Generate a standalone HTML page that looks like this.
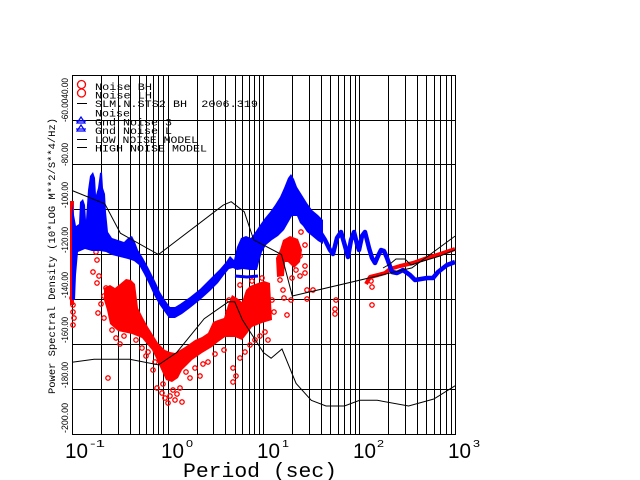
<!DOCTYPE html>
<html><head><meta charset="utf-8"><style>
html,body{margin:0;padding:0;background:#fff;}
svg{display:block;}
</style></head><body>
<svg width="640" height="480" xmlns="http://www.w3.org/2000/svg">
<rect width="640" height="480" fill="#fff"/>
<!-- grid -->
<path fill="none" stroke="#000" stroke-width="1" shape-rendering="crispEdges" d="
M72.5 75V434 M101.5 75V434 M118.5 75V434 M130.5 75V434 M139.5 75V434 M146.5 75V434 M153.5 75V434 M158.5 75V434 M163.5 75V434
M168.5 75V434 M197.5 75V434 M213.5 75V434 M225.5 75V434 M235.5 75V434 M242.5 75V434 M249.5 75V434 M254.5 75V434 M259.5 75V434
M263.5 75V434 M292.5 75V434 M309.5 75V434 M321.5 75V434 M330.5 75V434 M338.5 75V434 M344.5 75V434 M350.5 75V434 M355.5 75V434
M359.5 75V434 M388.5 75V434 M405.5 75V434 M417.5 75V434 M426.5 75V434 M434.5 75V434 M440.5 75V434 M446.5 75V434 M451.5 75V434
M455.5 75V434
M72 75.5H456 M72 120.5H456 M72 164.5H456 M72 209.5H456 M72 254.5H456 M72 299.5H456 M72 344.5H456 M72 389.5H456 M72 434.5H456"/>

<!-- red data -->
<g fill="#f00" stroke="none">
<rect x="70" y="201" width="4" height="104"/>
<polygon points="104,288 110,285 115,288 120,284 126,279 131,280 135,284 138,308 143,318 148,327 153,335 158,343 165,350 170,352 175,353 180,350 185,347 195,340 202,337 208,333 213,322 218,320 224,318 228,305 232,295 237,298 242,302 246,290 250,286 258,283 264,281 270,283 272,320 262,323 252,327 246,335 242,340 235,337 225,337 218,342 212,347 202,353 192,360 186,366 182,370 178,378 172,382 166,380 160,367 156,358 152,350 147,344 142,338 132,334 118,331 110,324 107,310 104,300"/>
<polygon points="283,240 290,236 298,239 302,250 300,262 294,268 288,262 285,262 284,276 277,277 276,258 280,250"/>
</g>
<polyline fill="none" stroke="#f00" stroke-width="4" stroke-linejoin="round" points="366,284 370,277 378,275 385,273 390,269 400,266 413,263 427,258 440,254 455,249"/>
<g fill="none" stroke="#f00" stroke-width="1.3">
<circle cx="72" cy="298" r="2.2"/><circle cx="73" cy="305" r="2.2"/><circle cx="73" cy="312" r="2.2"/><circle cx="74" cy="318" r="2.2"/><circle cx="73" cy="325" r="2.2"/>
<circle cx="96" cy="252" r="2.2"/><circle cx="97" cy="260" r="2.2"/><circle cx="93" cy="272" r="2.2"/><circle cx="99" cy="276" r="2.2"/><circle cx="97" cy="283" r="2.2"/>
<circle cx="98" cy="313" r="2.2"/><circle cx="104" cy="318" r="2.2"/><circle cx="106" cy="288" r="2.2"/><circle cx="104" cy="296" r="2.2"/><circle cx="101" cy="304" r="2.2"/>
<circle cx="108" cy="378" r="2.2"/><circle cx="112" cy="330" r="2.2"/><circle cx="116" cy="338" r="2.2"/><circle cx="120" cy="344" r="2.2"/><circle cx="124" cy="336" r="2.2"/>
<circle cx="136" cy="340" r="2.2"/><circle cx="142" cy="348" r="2.2"/><circle cx="148" cy="352" r="2.2"/><circle cx="155" cy="362" r="2.2"/><circle cx="153" cy="370" r="2.2"/>
<circle cx="157" cy="388" r="2.2"/><circle cx="162" cy="393" r="2.2"/><circle cx="165" cy="398" r="2.2"/><circle cx="168" cy="403" r="2.2"/><circle cx="170" cy="396" r="2.2"/>
<circle cx="175" cy="400" r="2.2"/><circle cx="177" cy="394" r="2.2"/><circle cx="182" cy="402" r="2.2"/><circle cx="163" cy="384" r="2.2"/><circle cx="173" cy="390" r="2.2"/>
<circle cx="180" cy="388" r="2.2"/><circle cx="186" cy="372" r="2.2"/><circle cx="190" cy="378" r="2.2"/><circle cx="195" cy="368" r="2.2"/><circle cx="200" cy="376" r="2.2"/>
<circle cx="203" cy="364" r="2.2"/><circle cx="208" cy="362" r="2.2"/><circle cx="215" cy="354" r="2.2"/><circle cx="224" cy="350" r="2.2"/><circle cx="233" cy="368" r="2.2"/>
<circle cx="236" cy="376" r="2.2"/><circle cx="240" cy="358" r="2.2"/><circle cx="245" cy="352" r="2.2"/><circle cx="250" cy="345" r="2.2"/><circle cx="255" cy="340" r="2.2"/>
<circle cx="260" cy="336" r="2.2"/><circle cx="265" cy="332" r="2.2"/><circle cx="268" cy="340" r="2.2"/><circle cx="233" cy="382" r="2.2"/><circle cx="229" cy="300" r="2.2"/>
<circle cx="240" cy="285" r="2.2"/><circle cx="252" cy="281" r="2.2"/><circle cx="262" cy="278" r="2.2"/><circle cx="272" cy="300" r="2.2"/><circle cx="274" cy="312" r="2.2"/>
<circle cx="283" cy="290" r="2.2"/><circle cx="284" cy="298" r="2.2"/><circle cx="291" cy="300" r="2.2"/><circle cx="292" cy="278" r="2.2"/><circle cx="296" cy="270" r="2.2"/>
<circle cx="300" cy="276" r="2.2"/><circle cx="305" cy="273" r="2.2"/><circle cx="307" cy="290" r="2.2"/><circle cx="307" cy="299" r="2.2"/><circle cx="305" cy="266" r="2.2"/>
<circle cx="313" cy="290" r="2.2"/><circle cx="336" cy="300" r="2.2"/><circle cx="335" cy="314" r="2.2"/><circle cx="335" cy="309" r="2.2"/><circle cx="372" cy="305" r="2.2"/>
<circle cx="372" cy="287" r="2.2"/><circle cx="371" cy="281" r="2.2"/><circle cx="301" cy="232" r="2.2"/><circle cx="305" cy="245" r="2.2"/><circle cx="287" cy="245" r="2.2"/>
<circle cx="280" cy="280" r="2.2"/><circle cx="287" cy="315" r="2.2"/><circle cx="290" cy="260" r="2.2"/><circle cx="300" cy="256" r="2.2"/>
<circle cx="228" cy="312" r="2.2"/><circle cx="221" cy="330" r="2.2"/><circle cx="188" cy="356" r="2.2"/><circle cx="146" cy="356" r="2.2"/><circle cx="129" cy="330" r="2.2"/>
</g>

<!-- blue data -->
<polygon fill="#00f" points="72,203 74,215 76,226 79,224 80,202 83,199 85,205 86,220 88,190 90,176 93,172 95,178 96,195 98,188 100,173 102,172 103,188 105,194 106,212 108,232 112,238 118,240 124,242 128,238 132,236 135,242 138,250 143,258 148,267 152,275 156,283 160,292 165,300 170,307 175,307 180,304 190,297 200,289 210,279 220,269 226,262 230,256 234,260 237,247 241,238 246,236 251,238 256,231 260,225 265,218 270,212 275,205 280,197 284,188 288,178 291,174 294,179 297,187 302,195 307,203 312,210 318,215 323,220 323,244 318,241 312,236 307,232 303,226 300,223 297,216 292,216 288,223 284,230 278,236 272,240 266,245 262,252 259,262 257,270 250,270 243,269 237,270 233,268 229,269 224,275 218,283 210,291 200,300 190,308 182,314 175,318 169,318 164,311 159,304 154,295 149,284 144,274 139,265 134,261 128,259 120,257 112,255 106,252 100,251 92,251 85,249 78,252 76,275 75,300 72,300"/>
<polyline fill="none" stroke="#00f" stroke-width="3" points="235,276 247,277 258,276"/>
<polyline fill="none" stroke="#00f" stroke-width="4.5" stroke-linejoin="round" points="320,232 325,240 330,250 333,254 337,238 341,232 345,246 348,257 351,240 354,232 357,244 359,250 362,236 365,232 369,248 372,258 375,263 378,256 381,250 384,251 387,258 392,272 397,273 403,270 410,275 415,280 427,278 433,278 438,272 447,265 455,262"/>

<!-- model lines -->
<g fill="none" stroke="#000" stroke-width="1">
<polyline points="72,190.5 104.8,203.8 120.4,233.2 158.5,254.5 223.3,205.1 231.2,201.7 244.3,211.8 253.7,239.9 281.5,254.5 292.3,296 411.9,267.9 455,236.1"/>
<polyline points="72,362.2 94.1,359.3 129.6,359.3 158.5,364.9 176.7,352.5 204.2,318.7 228.4,301.8 234.7,301.8 242.3,319.6 263.5,352.7 271.1,358.2 282,349 296.1,383.5 311.3,400.3 326,406 344.4,406 359.7,400.3 377.2,400.3 408.6,406 433.8,399 455,385.8"/>
<polyline points="383,268 390,264 396,259 405,259 411,265 420,262 440,256 455,250"/>
</g>

<!-- legend -->
<g fill="none" stroke="#f00" stroke-width="1.3">
<ellipse cx="81.5" cy="84.5" rx="4" ry="4"/>
<ellipse cx="81.5" cy="93" rx="4" ry="4"/>
</g>
<g stroke="#000" stroke-width="1">
<line x1="77" y1="103.5" x2="87" y2="103.5"/>
<line x1="77" y1="139.5" x2="87" y2="139.5"/>
<line x1="77" y1="147.5" x2="87" y2="147.5"/>
</g>
<g fill="none" stroke="#00f" stroke-width="1.2">
<polygon points="77,123 81,117 85,123"/><line x1="76" y1="121" x2="86" y2="121"/>
<polygon points="77,131 81,125 85,131"/><line x1="76" y1="129" x2="86" y2="129"/>
</g>
<g font-family="Liberation Mono, monospace" font-size="10.5" fill="#000">
<text x="95" y="90" textLength="57" lengthAdjust="spacingAndGlyphs">Noise BH</text>
<text x="95" y="98.5" textLength="57" lengthAdjust="spacingAndGlyphs">Noise LH</text>
<text x="95" y="107" textLength="163" lengthAdjust="spacingAndGlyphs" xml:space="preserve">SLM.N.STS2 BH  2006.319</text>
<text x="95" y="116.5" textLength="35" lengthAdjust="spacingAndGlyphs">Noise</text>
<text x="95" y="125.5" textLength="77" lengthAdjust="spacingAndGlyphs">Gnd Noise 3</text>
<text x="95" y="134" textLength="77" lengthAdjust="spacingAndGlyphs">Gnd Noise L</text>
<text x="95" y="143" textLength="103" lengthAdjust="spacingAndGlyphs">LOW NOISE MODEL</text>
<text x="95" y="151.7" textLength="112" lengthAdjust="spacingAndGlyphs">HIGH NOISE MODEL</text>
</g>

<!-- y tick labels -->
<g font-family="Liberation Sans, sans-serif" font-size="9" fill="#000">
<text transform="translate(68,433) rotate(-90)" textLength="30" lengthAdjust="spacingAndGlyphs">-200.00</text>
<text transform="translate(68,388) rotate(-90)" textLength="26" lengthAdjust="spacingAndGlyphs">-180.00</text>
<text transform="translate(68,343) rotate(-90)" textLength="26" lengthAdjust="spacingAndGlyphs">-160.00</text>
<text transform="translate(68,298) rotate(-90)" textLength="26" lengthAdjust="spacingAndGlyphs">-140.00</text>
<text transform="translate(68,253) rotate(-90)" textLength="26" lengthAdjust="spacingAndGlyphs">-120.00</text>
<text transform="translate(68,208) rotate(-90)" textLength="26" lengthAdjust="spacingAndGlyphs">-100.00</text>
<text transform="translate(68,166) rotate(-90)" textLength="23" lengthAdjust="spacingAndGlyphs">-80.00</text>
<text transform="translate(68,122) rotate(-90)" textLength="44" lengthAdjust="spacingAndGlyphs">-60.0040.00</text>
</g>
<text transform="translate(55,394) rotate(-90)" font-family="Liberation Mono, monospace" font-size="10.4" fill="#000" textLength="276" lengthAdjust="spacingAndGlyphs">Power Spectral Density (10*LOG M**2/S**4/Hz)</text>

<!-- x tick labels -->
<g font-family="Liberation Sans, sans-serif" fill="#000">
<text x="65" y="458" font-size="21" textLength="23" lengthAdjust="spacingAndGlyphs">10</text>
<text x="90" y="447" font-size="10" textLength="15" lengthAdjust="spacingAndGlyphs">-1</text>
<text x="161" y="458" font-size="21" textLength="23" lengthAdjust="spacingAndGlyphs">10</text>
<text x="186" y="447" font-size="10" textLength="7" lengthAdjust="spacingAndGlyphs">0</text>
<text x="257" y="458" font-size="21" textLength="23" lengthAdjust="spacingAndGlyphs">10</text>
<text x="282" y="447" font-size="10" textLength="7" lengthAdjust="spacingAndGlyphs">1</text>
<text x="353" y="458" font-size="21" textLength="23" lengthAdjust="spacingAndGlyphs">10</text>
<text x="377" y="447" font-size="10" textLength="7" lengthAdjust="spacingAndGlyphs">2</text>
<text x="448" y="458" font-size="21" textLength="23" lengthAdjust="spacingAndGlyphs">10</text>
<text x="473" y="447" font-size="10" textLength="7" lengthAdjust="spacingAndGlyphs">3</text>
</g>
<text x="183" y="477" font-family="Liberation Mono, monospace" font-size="20" fill="#000" textLength="154" lengthAdjust="spacingAndGlyphs">Period (sec)</text>
</svg>
</body></html>
